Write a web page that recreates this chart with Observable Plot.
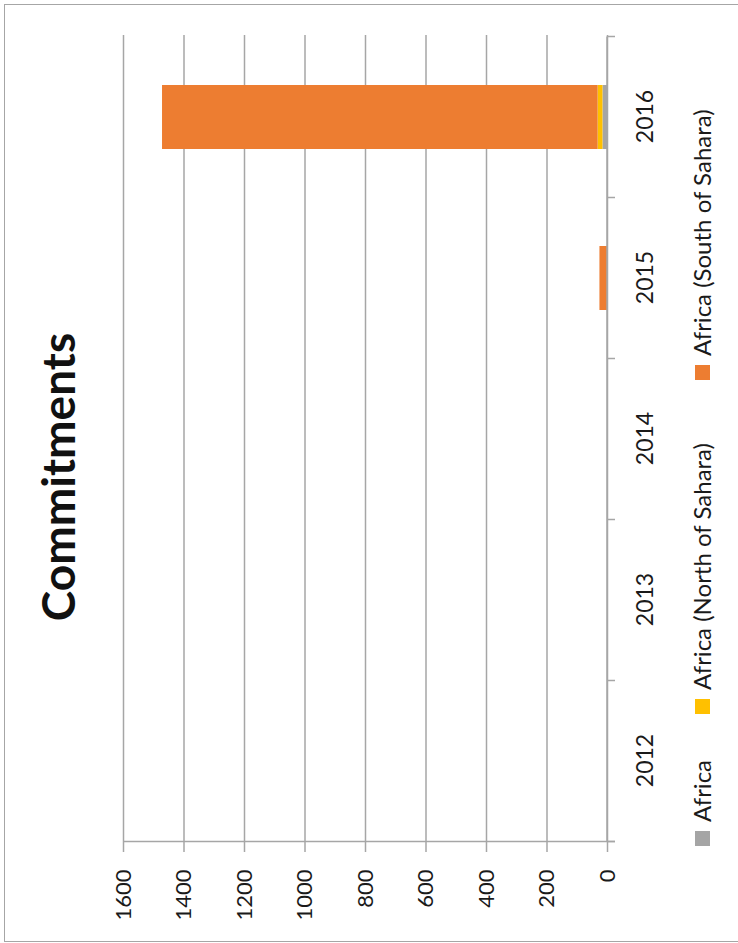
<!DOCTYPE html>
<html><head><meta charset="utf-8">
<script src="https://cdn.jsdelivr.net/npm/d3@7"></script>
<script src="https://cdn.jsdelivr.net/npm/@observablehq/plot@0.6"></script>
<style>
html,body{margin:0;padding:0;background:#fff;overflow:hidden;width:738px;height:943px;}
#chart{position:absolute;left:0;top:0;width:943px;height:738px;transform-origin:0 0;transform:translate(0px,943px) rotate(-90deg);overflow:hidden;font-family:Lato,sans-serif;color:#1a1a1a;background:#fff}
#frame{position:absolute;left:1px;top:3.5px;width:938px;height:800px;border:1.3px solid #a6a6a6;box-sizing:border-box}
#title{position:absolute;left:0;width:932px;top:30px;line-height:56px;text-align:center;font-weight:700;font-size:46px;color:#111}
#plot{position:absolute;left:0;top:0}
#legend{position:absolute;left:0;top:687px;width:943px;height:30px;font-size:24px;line-height:30px;color:#1a1a1a}
.item{position:absolute;top:0;display:flex;align-items:center;white-space:nowrap;height:30px}
.sw{width:15px;height:15px;margin-right:9px;flex:none}
</style>
</head><body>
<div id="chart">
  <div id="frame"></div>
  <div id="title">Commitments</div>
  <div id="plot"></div>
  <div id="legend"></div>
</div>
<script>
const years = ["2012", "2013", "2014", "2015", "2016"];
const seriesNames = ["Africa", "Africa (North of Sahara)", "Africa (South of Sahara)"];
const seriesColors = ["#a5a5a5", "#ffc000", "#ed7d31"];
const africa = [0, 0, 0, 0, 15];
const africaNorth = [0, 0, 0, 0, 16];
const africaSouth = [0, 0, 0, 25, 1440];
const valueTicks = [0, 200, 400, 600, 800, 1000, 1200, 1400, 1600];
const legendLeft = [97, 229, 563];

const rows = [];
[africa, africaNorth, africaSouth].forEach((vals, s) =>
  years.forEach((yr, i) => rows.push({year: yr, series: seriesNames[s], value: vals[i]})));

const axisColor = "#a6a6a6";

function axisLines(index, scales) {
  const x = scales.x, y = scales.y;
  const step = x.step(), bw = x.bandwidth();
  const bounds = years.map(yr => x(yr) + bw / 2 - step / 2);
  bounds.push(x(years[years.length - 1]) + bw / 2 + step / 2);
  const g = d3.create("svg:g").attr("stroke", axisColor).attr("stroke-width", 1.5).attr("fill", "none");
  const y0 = y(0);
  g.append("line").attr("x1", bounds[0]).attr("x2", bounds[bounds.length - 1]).attr("y1", y0).attr("y2", y0);
  g.append("line").attr("x1", bounds[0]).attr("x2", bounds[0]).attr("y1", y(1600)).attr("y2", y0 + 8);
  bounds.forEach(b => g.append("line").attr("x1", b).attr("x2", b).attr("y1", y0).attr("y2", y0 + 8));
  return g.node();
}

const chart = Plot.plot({
  width: 943,
  height: 738,
  marginLeft: 100,
  marginRight: 35,
  marginTop: 123,
  marginBottom: 131,
  style: {fontFamily: "Lato, sans-serif", fontSize: "23px", background: "transparent", overflow: "visible"},
  x: {domain: years, paddingInner: 0.6, paddingOuter: 0.3, label: null},
  y: {domain: [0, 1600], label: null},
  color: {domain: seriesNames, range: seriesColors},
  marks: [
    Plot.ruleY(valueTicks, {stroke: axisColor, strokeWidth: 1.5}),
    Plot.barY(rows, {x: "year", y: "value", fill: "series"}),
    Plot.axisX({tickSize: 0, tickPadding: 29, fontSize: 23, fill: "#1a1a1a", label: null}),
    Plot.axisY({ticks: valueTicks, tickFormat: d => String(d), tickSize: 9, tickPadding: 18, stroke: axisColor, strokeWidth: 1.5, fill: "#1a1a1a", fontSize: 22, label: null}),
    axisLines
  ]
});
document.getElementById("plot").appendChild(chart);

const legend = d3.select("#legend");
seriesNames.forEach((name, i) => {
  const it = legend.append("div").attr("class", "item").style("left", legendLeft[i] + "px");
  it.append("div").attr("class", "sw").style("background", seriesColors[i]);
  it.append("span").text(name);
});
</script>
</body></html>
